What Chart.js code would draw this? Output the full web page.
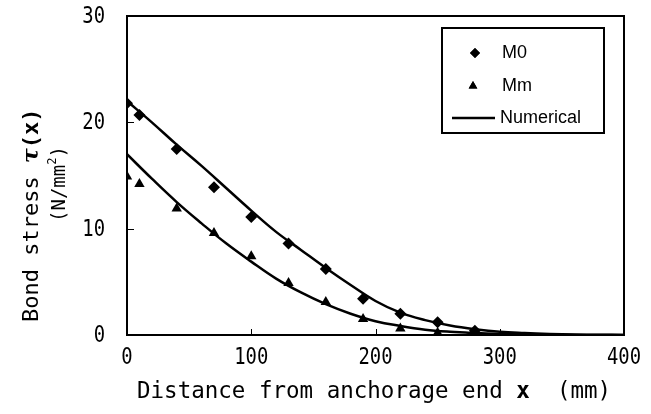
<!DOCTYPE html>
<html>
<head>
<meta charset="utf-8">
<script src="https://cdn.jsdelivr.net/npm/chart.js@4/dist/chart.umd.min.js"></script>
<style>
  html, body { margin: 0; padding: 0; background: #fff; }
  #wrap { width: 651px; height: 414px; }
</style>
</head>
<body>
<div id="wrap"><canvas id="grafico" width="651" height="414"></canvas></div>
<script>
// measured points
const xM0 = [0, 10, 40, 70, 100, 130, 160, 190, 220, 250, 280];
const yM0 = [21.8, 20.7, 17.5, 13.9, 11.1, 8.6, 6.2, 3.4, 2.0, 1.2, 0.4];
const xMm = [0, 10, 40, 70, 100, 130, 160, 190, 220, 250];
const yMm = [14.9, 14.2, 11.9, 9.6, 7.4, 4.9, 3.1, 1.5, 0.6, 0.2];

// numerical curves
const xNum = [0, 20, 40, 60, 80, 100, 120, 140, 160, 180, 200, 220, 240, 260, 280, 300, 320, 340, 360, 380, 400];
const numM0 = [22, 20.0, 17.9, 15.9, 13.8, 11.7, 9.7, 8.0, 6.3, 4.7, 3.2, 2.1, 1.4, 0.9, 0.55, 0.3, 0.18, 0.1, 0.05, 0.02, 0.01];
const numMm = [17, 14.7, 12.5, 10.5, 8.6, 6.9, 5.3, 4.0, 2.9, 2.0, 1.3, 0.85, 0.5, 0.3, 0.18, 0.1, 0.05, 0.02, 0.01, 0, 0];

const xTicks = [0, 100, 200, 300, 400];
const yTicks = [0, 10, 20, 30];

const pts = (xs, ys) => xs.map((x, i) => ({ x: x, y: ys[i] }));
const monoFont = '"DejaVu Sans Mono", "Liberation Mono", monospace';

// narrow tall digits like the original gothic font
function narrowText(ctx, txt, x, y, align) {
  ctx.save();
  ctx.font = '23px ' + monoFont;
  ctx.textBaseline = 'middle';
  ctx.textAlign = align;
  ctx.translate(x, y);
  ctx.scale(0.82, 1);
  ctx.fillText(txt, 0, 0);
  ctx.restore();
}

// frame, inner ticks, labels, titles and legend
const extras = {
  id: 'extras',
  afterDraw(chart) {
    const ctx = chart.ctx;
    const a = chart.chartArea;
    const xs = chart.scales.x, ys = chart.scales.y;
    ctx.save();
    ctx.strokeStyle = '#000';
    ctx.fillStyle = '#000';
    ctx.lineWidth = 2;
    ctx.strokeRect(a.left, a.top, a.right - a.left, a.bottom - a.top);

    // inner ticks
    ctx.lineWidth = 1;
    ctx.beginPath();
    [100, 200, 300].forEach(v => {
      const px = Math.round(xs.getPixelForValue(v)) + 0.5;
      ctx.moveTo(px, a.bottom); ctx.lineTo(px, a.bottom - 6);
    });
    [10, 20].forEach(v => {
      const py = Math.round(ys.getPixelForValue(v)) + 0.5;
      ctx.moveTo(a.left, py); ctx.lineTo(a.left + 7, py);
    });
    ctx.stroke();

    // tick labels
    xTicks.forEach(v => narrowText(ctx, String(v), xs.getPixelForValue(v), a.bottom + 23, 'center'));
    yTicks.forEach(v => narrowText(ctx, String(v), a.left - 22, ys.getPixelForValue(v) + 1, 'right'));

    // x title
    ctx.textBaseline = 'alphabetic';
    ctx.textAlign = 'left';
    let tx = 137;
    const ty = 398;
    ctx.font = '22.5px ' + monoFont;
    const p1 = 'Distance from anchorage end ';
    ctx.fillText(p1, tx, ty); tx += ctx.measureText(p1).width;
    ctx.font = 'bold 22.5px ' + monoFont;
    ctx.fillText('x', tx, ty); tx += ctx.measureText('x').width;
    ctx.font = '22.5px ' + monoFont;
    ctx.fillText('  (mm)', tx, ty);

    // y title
    ctx.save();
    ctx.translate(38, 322);
    ctx.rotate(-Math.PI / 2);
    let yx = 0;
    ctx.font = '22px ' + monoFont;
    ctx.fillText('Bond stress ', yx, 0); yx += ctx.measureText('Bond stress ').width;
    ctx.font = 'italic bold 22px "DejaVu Serif", serif';
    ctx.fillText('\u03C4', yx, 0); yx += ctx.measureText('\u03C4').width;
    ctx.font = 'bold 22px ' + monoFont;
    ctx.fillText('(x)', yx, 0);
    ctx.restore();

    ctx.save();
    ctx.translate(65, 222);
    ctx.rotate(-Math.PI / 2);
    let ux = 0;
    ctx.font = '19px ' + monoFont;
    ctx.fillText('(N/mm', ux, 0); ux += ctx.measureText('(N/mm').width;
    ctx.font = '12px ' + monoFont;
    ctx.fillText('2', ux, -9); ux += ctx.measureText('2').width;
    ctx.font = '19px ' + monoFont;
    ctx.fillText(')', ux, 0);
    ctx.restore();

    // legend
    const lx = a.right - 182, ly = a.top + 12;
    ctx.lineWidth = 2;
    ctx.strokeRect(lx, ly, 162, 105);
    ctx.font = '18px "Liberation Sans", Arial, sans-serif';
    ctx.textBaseline = 'middle';
    Chart.helpers.drawPoint(ctx, { pointStyle: 'rectRot', radius: 5, borderWidth: 0 }, lx + 33, ly + 25);
    ctx.fill();
    ctx.fillText('M0', lx + 60, ly + 25);
    Chart.helpers.drawPoint(ctx, { pointStyle: 'triangle', radius: 5, borderWidth: 0 }, lx + 31, ly + 58);
    ctx.fill();
    ctx.fillText('Mm', lx + 60, ly + 58);
    ctx.lineWidth = 2.5;
    ctx.beginPath();
    ctx.moveTo(lx + 10, ly + 90); ctx.lineTo(lx + 53, ly + 90);
    ctx.stroke();
    ctx.fillText('Numerical', lx + 58, ly + 90);
    ctx.restore();
  }
};

const chart = new Chart(document.getElementById('grafico'), {
  type: 'scatter',
  data: {
    datasets: [
      {
        label: 'M0',
        data: pts(xM0, yM0),
        pointStyle: 'rectRot',
        pointRadius: 6,
        backgroundColor: '#000',
        borderColor: '#000',
        borderWidth: 0
      },
      {
        label: 'Mm',
        data: pts(xMm, yMm),
        pointStyle: 'triangle',
        pointRadius: 6,
        backgroundColor: '#000',
        borderColor: '#000',
        borderWidth: 0
      },
      {
        label: 'Numerical',
        data: pts(xNum, numM0),
        showLine: true,
        pointRadius: 0,
        borderColor: '#000',
        borderWidth: 2.5,
        tension: 0.4
      },
      {
        label: 'Numerical (Mm)',
        data: pts(xNum, numMm),
        showLine: true,
        pointRadius: 0,
        borderColor: '#000',
        borderWidth: 2.5,
        tension: 0.4
      }
    ]
  },
  options: {
    responsive: false,
    animation: false,
    layout: { padding: { left: 0, right: 27, top: 16, bottom: 0 } },
    plugins: {
      legend: { display: false },
      tooltip: { enabled: false }
    },
    scales: {
      x: {
        min: 0,
        max: 400,
        afterFit: s => { s.height = 79; },
        afterBuildTicks: s => { s.ticks = xTicks.map(v => ({ value: v })); },
        grid: { display: false },
        border: { display: false },
        ticks: { display: false }
      },
      y: {
        min: 0,
        max: 30,
        afterFit: s => { s.width = 127; },
        afterBuildTicks: s => { s.ticks = yTicks.map(v => ({ value: v })); },
        grid: { display: false },
        border: { display: false },
        ticks: { display: false }
      }
    }
  },
  plugins: [extras]
});
</script>
</body>
</html>
